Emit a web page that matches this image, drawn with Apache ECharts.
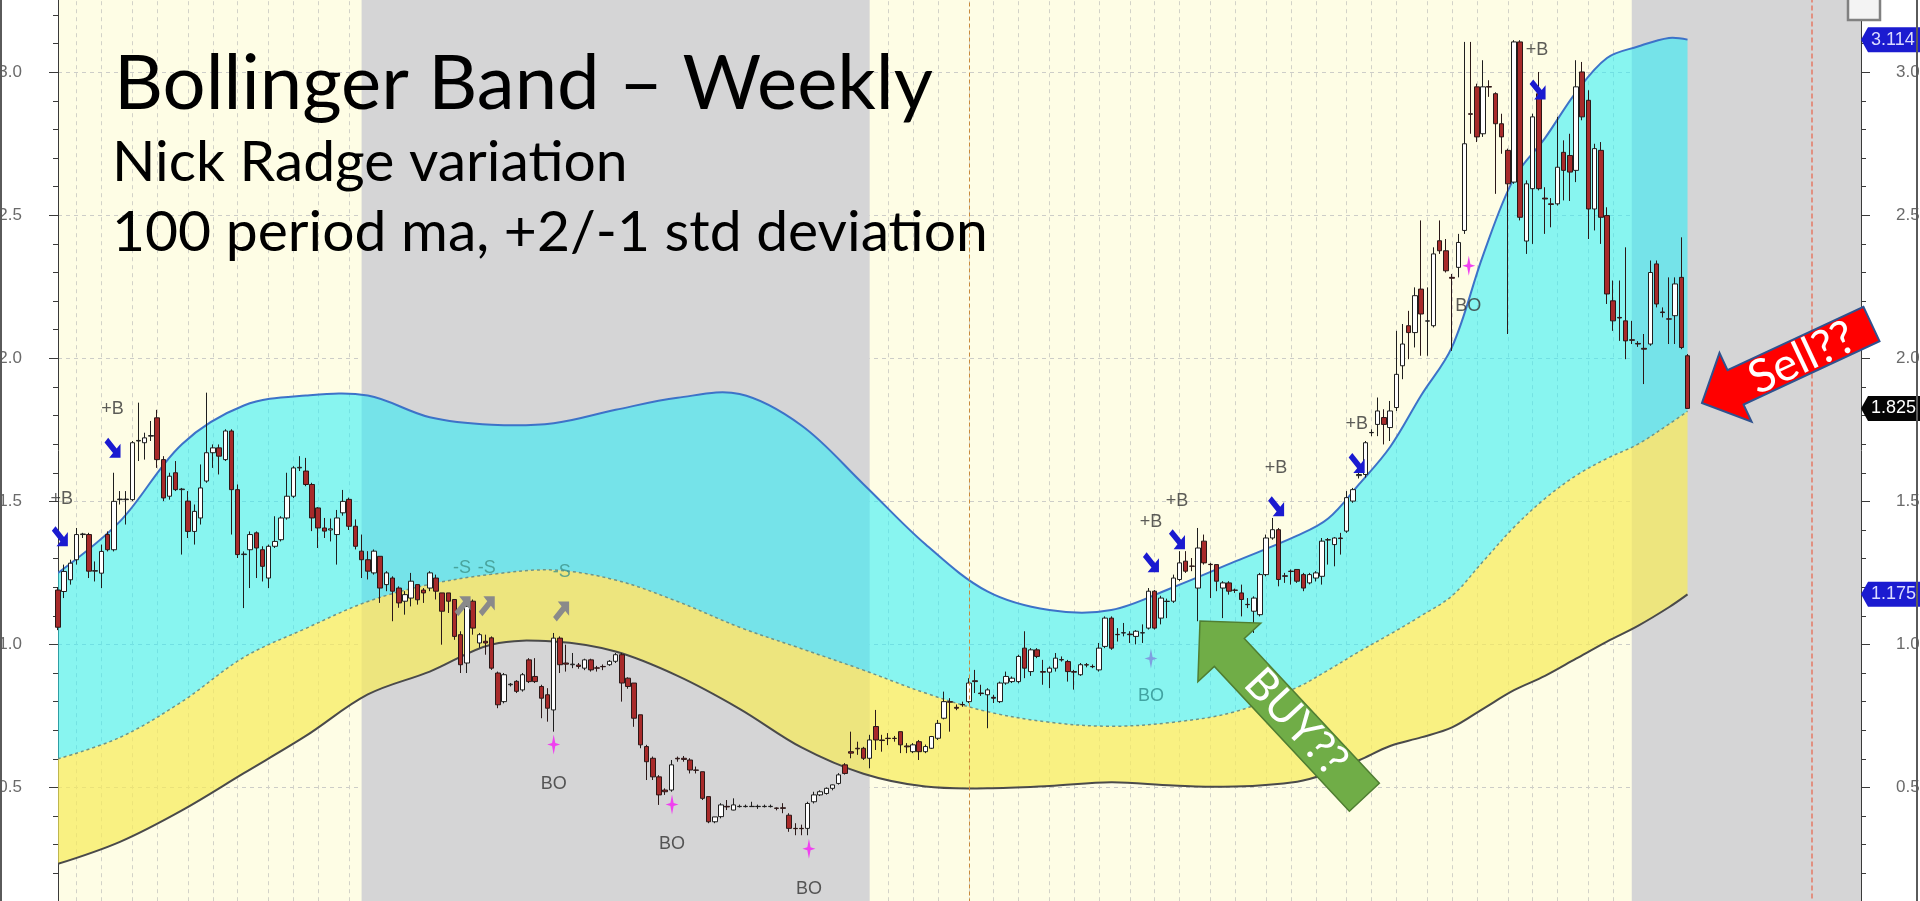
<!DOCTYPE html>
<html>
<head>
<meta charset="utf-8">
<title>Bollinger Band – Weekly</title>
<script src="https://cdn.jsdelivr.net/npm/echarts@6/dist/echarts.min.js"></script>
<style>
  html, body { margin: 0; padding: 0; background: #fff; }
  #chart { width: 1920px; height: 901px; }
</style>
</head>
<body>
<div id="chart"></div>
<script>
// weekly candles [open, close, low, high]
const candlesA = [ // weeks 0-66
  [1.19, 1.06, 1.05, 1.20], [1.185, 1.255, 1.162, 1.279], [1.226, 1.284, 1.209, 1.296], [1.296, 1.384, 1.279, 1.407],
  [1.384, 1.386, 1.372, 1.39], [1.384, 1.256, 1.232, 1.39], [1.256, 1.258, 1.22, 1.29], [1.249, 1.325, 1.197, 1.349],
  [1.384, 1.331, 1.325, 1.395], [1.331, 1.50, 1.325, 1.60], [1.506, 1.508, 1.489, 1.536], [1.506, 1.508, 1.419, 1.536],
  [1.506, 1.705, 1.501, 1.711], [1.711, 1.713, 1.641, 1.845], [1.705, 1.722, 1.646, 1.74], [1.728, 1.73, 1.711, 1.781],
  [1.792, 1.646, 1.617, 1.82], [1.646, 1.512, 1.501, 1.658], [1.518, 1.588, 1.506, 1.60], [1.60, 1.541, 1.536, 1.641],
  [1.541, 1.543, 1.314, 1.547], [1.501, 1.395, 1.372, 1.536], [1.395, 1.465, 1.349, 1.489], [1.442, 1.547, 1.419, 1.629],
  [1.571, 1.67, 1.565, 1.88], [1.67, 1.687, 1.617, 1.699], [1.687, 1.658, 1.594, 1.699], [1.646, 1.746, 1.641, 1.752],
  [1.746, 1.541, 1.384, 1.752], [1.541, 1.314, 1.302, 1.559], [1.314, 1.316, 1.127, 1.325], [1.331, 1.384, 1.197, 1.395],
  [1.39, 1.337, 1.232, 1.395], [1.331, 1.273, 1.22, 1.343], [1.232, 1.343, 1.197, 1.349], [1.343, 1.36, 1.337, 1.448],
  [1.366, 1.442, 1.36, 1.448], [1.442, 1.518, 1.436, 1.60], [1.518, 1.617, 1.512, 1.623], [1.617, 1.619, 1.606, 1.658],
  [1.606, 1.559, 1.553, 1.652], [1.559, 1.442, 1.396, 1.565], [1.477, 1.407, 1.337, 1.48], [1.407, 1.396, 1.372, 1.442],
  [1.40, 1.404, 1.36, 1.44], [1.384, 1.442, 1.279, 1.47], [1.46, 1.50, 1.45, 1.54], [1.507, 1.413, 1.40, 1.513],
  [1.413, 1.343, 1.332, 1.437], [1.326, 1.296, 1.232, 1.384], [1.296, 1.256, 1.227, 1.326], [1.25, 1.326, 1.244, 1.332],
  [1.308, 1.197, 1.145, 1.308], [1.209, 1.25, 1.186, 1.256], [1.232, 1.186, 1.081, 1.238], [1.197, 1.145, 1.128, 1.203],
  [1.151, 1.174, 1.104, 1.186], [1.162, 1.221, 1.133, 1.25], [1.209, 1.156, 1.139, 1.209], [1.19, 1.18, 1.145, 1.197],
  [1.197, 1.25, 1.186, 1.256], [1.232, 1.186, 1.157, 1.244], [1.18, 1.116, 0.999, 1.18], [1.18, 1.151, 1.11, 1.18],
  [1.157, 1.028, 1.016, 1.157], [1.034, 0.929, 0.90, 1.046], [0.935, 1.133, 0.90, 1.151]
];
const candlesB = [ // weeks 67-135
  [1.151, 1.057, 1.034, 1.157], [1.005, 1.034, 0.988, 1.04], [1.011, 1.005, 0.964, 1.034], [1.023, 0.917, 0.911, 1.028],
  [0.90, 0.789, 0.777, 0.905], [0.80, 0.894, 0.794, 0.90], [0.859, 0.861, 0.853, 0.865], [0.871, 0.836, 0.83, 0.875],
  [0.841, 0.894, 0.835, 0.90], [0.946, 0.87, 0.865, 0.952], [0.888, 0.87, 0.865, 0.952], [0.853, 0.812, 0.742, 0.859],
  [0.824, 0.777, 0.73, 0.847], [0.771, 1.022, 0.695, 1.04], [1.022, 0.929, 0.90, 1.028], [0.935, 0.931, 0.905, 0.999],
  [0.929, 0.931, 0.917, 0.97], [0.928, 0.923, 0.915, 0.935], [0.917, 0.946, 0.91, 0.95], [0.946, 0.911, 0.905, 0.95],
  [0.918, 0.917, 0.905, 0.925], [0.923, 0.922, 0.91, 0.93], [0.929, 0.941, 0.925, 0.945], [0.941, 0.964, 0.935, 0.97],
  [0.964, 0.865, 0.80, 0.97], [0.882, 0.853, 0.845, 0.885], [0.865, 0.742, 0.712, 0.865], [0.754, 0.649, 0.637, 0.754],
  [0.643, 0.59, 0.526, 0.649], [0.602, 0.537, 0.526, 0.608], [0.537, 0.474, 0.439, 0.543], [0.491, 0.485, 0.474, 0.497],
  [0.491, 0.579, 0.485, 0.596], [0.602, 0.60, 0.59, 0.608], [0.602, 0.598, 0.59, 0.61], [0.596, 0.561, 0.549, 0.602],
  [0.561, 0.56, 0.549, 0.573], [0.555, 0.462, 0.456, 0.555], [0.468, 0.38, 0.375, 0.468], [0.38, 0.397, 0.375, 0.397],
  [0.398, 0.439, 0.392, 0.445], [0.434, 0.432, 0.421, 0.456], [0.421, 0.439, 0.42, 0.462], [0.433, 0.434, 0.43, 0.44],
  [0.433, 0.434, 0.43, 0.44], [0.433, 0.434, 0.433, 0.45], [0.433, 0.434, 0.425, 0.44], [0.433, 0.434, 0.43, 0.44],
  [0.433, 0.434, 0.43, 0.44], [0.428, 0.427, 0.42, 0.43], [0.429, 0.427, 0.41, 0.445], [0.403, 0.357, 0.345, 0.41],
  [0.357, 0.356, 0.333, 0.375], [0.357, 0.356, 0.333, 0.37], [0.357, 0.444, 0.333, 0.45], [0.45, 0.474, 0.444, 0.485],
  [0.474, 0.485, 0.47, 0.49], [0.479, 0.497, 0.475, 0.50], [0.497, 0.509, 0.49, 0.51], [0.514, 0.544, 0.51, 0.55],
  [0.579, 0.549, 0.545, 0.585], [0.625, 0.62, 0.602, 0.695], [0.637, 0.635, 0.614, 0.66], [0.637, 0.602, 0.596, 0.642],
  [0.602, 0.666, 0.567, 0.684], [0.713, 0.666, 0.631, 0.771], [0.666, 0.664, 0.625, 0.684], [0.672, 0.671, 0.648, 0.69],
  [0.672, 0.671, 0.66, 0.68]
];
const candlesC = [ // weeks 136-209
  [0.695, 0.649, 0.62, 0.695], [0.645, 0.642, 0.62, 0.655], [0.625, 0.649, 0.62, 0.655], [0.66, 0.625, 0.596, 0.666],
  [0.625, 0.643, 0.62, 0.65], [0.637, 0.678, 0.635, 0.68], [0.672, 0.724, 0.666, 0.736], [0.742, 0.80, 0.738, 0.835],
  [0.80, 0.798, 0.695, 0.812], [0.78, 0.777, 0.77, 0.79], [0.79, 0.789, 0.782, 0.80], [0.80, 0.865, 0.795, 0.882],
  [0.873, 0.87, 0.83, 0.911], [0.83, 0.828, 0.82, 0.859], [0.824, 0.841, 0.707, 0.847], [0.815, 0.812, 0.795, 0.824],
  [0.80, 0.865, 0.795, 0.87], [0.865, 0.888, 0.859, 0.905], [0.87, 0.882, 0.865, 0.888], [0.87, 0.958, 0.864, 0.964],
  [0.987, 0.917, 0.882, 1.046], [0.905, 0.981, 0.89, 0.987], [0.981, 0.958, 0.952, 0.987], [0.905, 0.903, 0.859, 0.946],
  [0.903, 0.917, 0.847, 0.923], [0.917, 0.952, 0.905, 0.97], [0.947, 0.946, 0.94, 0.958], [0.94, 0.905, 0.87, 0.946],
  [0.905, 0.903, 0.842, 0.911], [0.894, 0.929, 0.89, 0.935], [0.929, 0.928, 0.92, 0.935], [0.923, 0.922, 0.917, 0.93],
  [0.911, 0.987, 0.905, 1.005], [0.993, 1.092, 0.987, 1.098], [1.092, 0.987, 0.981, 1.098],
  [1.035, 1.034, 1.01, 1.057], [1.04, 1.041, 1.028, 1.075], [1.036, 1.034, 1.005, 1.046], [1.028, 1.046, 1.0, 1.05],
  [1.04, 1.041, 1.005, 1.07], [1.057, 1.186, 1.052, 1.197], [1.186, 1.057, 1.052, 1.19], [1.092, 1.162, 1.07, 1.17],
  [1.15, 1.151, 1.092, 1.16], [1.151, 1.232, 1.145, 1.244], [1.227, 1.285, 1.221, 1.326], [1.291, 1.256, 1.25, 1.326],
  [1.274, 1.273, 1.256, 1.302], [1.197, 1.337, 1.081, 1.407], [1.361, 1.285, 1.279, 1.384], [1.28, 1.279, 1.162, 1.285],
  [1.279, 1.221, 1.186, 1.279], [1.197, 1.215, 1.092, 1.221], [1.215, 1.186, 1.174, 1.221], [1.19, 1.189, 1.18, 1.195],
  [1.18, 1.157, 1.098, 1.209], [1.14, 1.139, 1.127, 1.162], [1.116, 1.162, 1.04, 1.168], [1.104, 1.244, 1.098, 1.25],
  [1.244, 1.372, 1.238, 1.384], [1.372, 1.401, 1.366, 1.442], [1.401, 1.227, 1.203, 1.407], [1.24, 1.238, 1.215, 1.25],
  [1.256, 1.255, 1.209, 1.262], [1.262, 1.221, 1.215, 1.262], [1.244, 1.197, 1.186, 1.25], [1.215, 1.244, 1.21, 1.25],
  [1.232, 1.25, 1.22, 1.256], [1.238, 1.361, 1.209, 1.372], [1.366, 1.365, 1.279, 1.372], [1.349, 1.372, 1.273, 1.375],
  [1.372, 1.37, 1.314, 1.39], [1.396, 1.513, 1.39, 1.536], [1.501, 1.541, 1.495, 1.547]
];
const candlesD = [ // weeks 210-263
  [1.59, 1.594, 1.58, 1.61], [1.594, 1.705, 1.583, 1.711], [1.74, 1.741, 1.728, 1.752], [1.769, 1.816, 1.728, 1.863],
  [1.793, 1.769, 1.699, 1.822], [1.758, 1.816, 1.711, 1.851], [1.828, 1.944, 1.816, 2.096], [1.974, 2.05, 1.927, 2.12],
  [2.114, 2.09, 1.997, 2.166], [2.09, 2.219, 2.038, 2.248], [2.242, 2.155, 2.009, 2.482], [2.13, 2.131, 2.009, 2.248],
  [2.114, 2.365, 2.108, 2.388], [2.411, 2.376, 2.365, 2.482], [2.376, 2.306, 2.30, 2.417], [2.283, 2.28, 2.026, 2.295],
  [2.318, 2.405, 2.283, 2.435],
  [2.447, 2.75, 2.435, 3.106], [2.855, 2.853, 2.785, 3.106], [2.949, 2.774, 2.756, 2.96], [2.785, 2.949, 2.774, 3.042],
  [2.95, 2.948, 2.914, 2.972], [2.925, 2.82, 2.575, 2.93], [2.82, 2.774, 2.715, 2.855], [2.727, 2.61, 2.085, 2.733],
  [2.616, 3.106, 2.61, 3.112], [3.106, 2.493, 2.482, 3.112], [2.41, 2.61, 2.365, 2.622], [2.593, 2.844, 2.40, 2.855],
  [2.925, 2.593, 2.587, 3.001], [2.56, 2.557, 2.435, 2.598], [2.54, 2.538, 2.458, 2.56], [2.54, 2.668, 2.534, 2.844],
  [2.72, 2.657, 2.552, 2.762], [2.709, 2.651, 2.55, 2.785], [2.657, 2.949, 2.616, 3.042], [3.001, 2.844, 2.832, 3.036],
  [2.902, 2.522, 2.417, 2.937], [2.522, 2.733, 2.447, 2.75], [2.727, 2.493, 2.40, 2.756], [2.499, 2.225, 2.19, 2.528],
  [2.201, 2.131, 2.096, 2.272], [2.143, 2.141, 2.061, 2.272], [2.131, 2.061, 1.997, 2.388], [2.065, 2.063, 2.05, 2.131],
  [2.052, 2.05, 2.04, 2.06], [2.035, 2.032, 1.91, 2.085], [2.05, 2.30, 2.044, 2.342], [2.33, 2.19, 2.178, 2.342],
  [2.162, 2.16, 2.143, 2.178], [2.138, 2.137, 2.05, 2.283], [2.149, 2.26, 2.05, 2.283], [2.283, 2.038, 2.032, 2.423],
  [2.009, 1.825, 1.825, 2.015]
];
const candles = candlesA.concat(candlesB, candlesC, candlesD);

// bollinger band, sampled at these week indices
const bandIdx = [0, 10, 20, 30, 40, 50, 60, 70, 80, 90, 100, 110, 120, 130, 140, 150, 160, 170, 180, 190,
  200, 205, 210, 215, 220, 225, 230, 235, 240, 245, 250, 255, 260, 263];
const upperBand = [1.25, 1.43, 1.70, 1.835, 1.87, 1.87, 1.794, 1.768, 1.773, 1.82, 1.862, 1.875, 1.765, 1.56, 1.35,
  1.185, 1.12, 1.12, 1.20, 1.29, 1.38, 1.44, 1.56, 1.69, 1.87, 2.04, 2.36, 2.63, 2.77, 2.93, 3.05, 3.09, 3.12, 3.114];
const middleBand = [0.60, 0.675, 0.80, 0.955, 1.056, 1.15, 1.21, 1.245, 1.26, 1.225, 1.15, 1.06, 0.985, 0.91, 0.83,
  0.765, 0.728, 0.714, 0.728, 0.765, 0.85, 0.91, 0.975, 1.036, 1.10, 1.17, 1.29, 1.41, 1.51, 1.59, 1.65, 1.70, 1.77, 1.815];
const lowerBand = [0.233, 0.31, 0.42, 0.55, 0.68, 0.825, 0.905, 1.00, 1.01, 0.975, 0.89, 0.775, 0.64, 0.548, 0.503,
  0.497, 0.505, 0.518, 0.507, 0.503, 0.52, 0.55, 0.595, 0.645, 0.675, 0.71, 0.775, 0.84, 0.89, 0.95, 1.01, 1.065, 1.13, 1.175];

// signal markers [week, price]
const buyLabels = [[0.6, 1.508], [8.8, 1.823], [176.4, 1.427], [180.6, 1.50], [196.6, 1.617], [209.6, 1.771], [238.7, 3.077]];
const buyArrows = [[0.3, 1.378], [8.8, 1.687], [176.4, 1.287], [180.6, 1.368], [196.6, 1.483], [209.6, 1.634], [238.8, 2.94]];
const sellLabels = [[65.2, 1.266], [69.2, 1.266], [81.3, 1.252]];
const sellArrows = [[65.3, 1.133], [69.2, 1.133], [81.2, 1.115]];
const boStars = [[80.0, 0.65], [99.1, 0.44], [121.2, 0.286], [227.7, 2.324]];
const boLabels = [[80.0, 0.513], [99.1, 0.303], [121.2, 0.145], [227.6, 2.184]];
const boStarsBlue = [[176.4, 0.951]];
const boLabelsBlue = [[176.4, 0.818]];

const yTicks = [0.5, 1.0, 1.5, 2.0, 2.5, 3.0];
const TOTAL_WEEKS = 292;
const greyZones = [[49, 131], [254, 291]];

const weeks = [];
const start = Date.UTC(2013, 0, 11);
for (let i = 0; i < TOTAL_WEEKS; i++) {
  weeks.push(new Date(start + i * 7 * 864e5).toISOString().slice(0, 10));
}

const NARROW = '"Liberation Sans Narrow", "Liberation Sans", Arial, sans-serif';
const ARROW_DR = 'path://M4.76,0.24 L15.26,10.74 L20,6 L20,20 L6,20 L10.74,15.26 L0.24,4.76 Z';
const ARROW_UR = 'path://M4.76,19.76 L15.26,9.26 L20,14 L20,0 L6,0 L10.74,4.74 L0.24,15.24 Z';
const STAR = 'path://M6,0 L7.5,8.5 L12,10 L7.5,11.5 L6,20 L4.5,11.5 L0,10 L4.5,8.5 Z';
const SMOOTH = 0.35;

function textMarks(points, text, color) {
  return {
    type: 'scatter', xAxisIndex: 1, yAxisIndex: 0, z: 6, silent: true,
    symbol: 'circle', symbolSize: 1, itemStyle: { color: 'rgba(0,0,0,0)' },
    label: { show: true, position: 'inside', formatter: text, color: color, fontSize: 18, fontFamily: NARROW },
    data: points
  };
}
function symbolMarks(points, path, size, color) {
  return {
    type: 'scatter', xAxisIndex: 1, yAxisIndex: 0, z: 6, silent: true,
    symbol: path, symbolSize: size, itemStyle: { color: color, opacity: 1 }, data: points
  };
}

// band fill + band lines, drawn through the axes of the chart
function renderBands(params, api) {
  const toPts = vals => bandIdx.map((x, i) => api.coord([x, vals[i]]));
  const up = toPts(upperBand), mid = toPts(middleBand), low = toPts(lowerBand);
  const dup = a => [a[0]].concat(a, [a[a.length - 1]]);
  const loop = (top, bottom) => dup(top).concat(dup(bottom.slice().reverse()));
  return {
    type: 'group',
    children: [
      { type: 'polygon', shape: { points: loop(up, mid), smooth: SMOOTH }, style: { fill: 'rgba(38,239,250,0.55)' } },
      { type: 'polygon', shape: { points: loop(mid, low), smooth: SMOOTH }, style: { fill: 'rgba(246,235,88,0.7)' } },
      { type: 'polyline', shape: { points: low, smooth: SMOOTH }, style: { stroke: '#4a4a4a', lineWidth: 2, fill: null } },
      { type: 'polyline', shape: { points: mid, smooth: SMOOTH }, style: { stroke: '#6f9587', lineWidth: 1.5, lineDash: [3, 3], fill: null } },
      { type: 'polyline', shape: { points: up, smooth: SMOOTH }, style: { stroke: '#3d72c8', lineWidth: 2, fill: null } }
    ]
  };
}

const axisLabelStyle = {
  showMinLabel: false, showMaxLabel: false, color: '#6a6a6a', fontSize: 17, fontFamily: NARROW,
  formatter: v => (yTicks.indexOf(v) >= 0 ? v.toFixed(1) : '')
};
const yAxisBase = {
  type: 'value', min: 0, max: 3.5, interval: 0.5,
  axisLine: { show: true, lineStyle: { color: '#3a3a3a', width: 1 } },
  axisTick: { show: true, length: 9, lineStyle: { color: '#3a3a3a' } },
  minorTick: { show: true, splitNumber: 5, length: 5, lineStyle: { color: '#3a3a3a' } }
};

const chart = echarts.init(document.getElementById('chart'));

chart.setOption({
  animation: false,
  backgroundColor: '#ffffff',
  grid: {
    left: 58, right: 59, top: -70.8, bottom: -29.5,
    show: true, backgroundColor: '#fefde5', borderWidth: 0,
    containLabel: false, outerBoundsMode: 'none'
  },
  xAxis: [
    {
      type: 'category', data: weeks, boundaryGap: false,
      axisLine: { show: false }, axisTick: { show: false }, axisLabel: { show: false },
      splitLine: {
        show: true,
        interval: (i) => i > 0 && weeks[i].slice(5, 7) !== weeks[i - 1].slice(5, 7),
        lineStyle: { color: '#d2d2c8', type: [4, 4], width: 1 }
      }
    },
    { type: 'value', min: 0, max: TOTAL_WEEKS - 1, show: false }
  ],
  yAxis: [
    Object.assign({}, yAxisBase, {
      position: 'left',
      axisLabel: Object.assign({}, axisLabelStyle, { margin: 36 }),
      splitLine: { show: true, lineStyle: { color: '#cdcdc8', type: [4, 4] } }
    }),
    Object.assign({}, yAxisBase, {
      position: 'right',
      axisLabel: Object.assign({}, axisLabelStyle, { margin: 35 }),
      splitLine: { show: false }
    })
  ],
  series: [
    {
      type: 'line', xAxisIndex: 0, yAxisIndex: 0, data: [], silent: true,
      markArea: {
        silent: true, z: 1,
        itemStyle: { color: '#d5d5d6' },
        data: greyZones.map(z => [{ xAxis: weeks[z[0]] }, { xAxis: weeks[z[1]] }])
      },
      markLine: {
        silent: true, symbol: 'none', label: { show: false },
        data: [
          { xAxis: weeks[147], lineStyle: { color: '#c98a3c', type: [4, 3], width: 1 } },
          { xAxis: weeks[283], lineStyle: { color: '#e57a66', type: [5, 3], width: 1.5 } }
        ]
      }
    },
    {
      name: 'bands', type: 'custom', xAxisIndex: 1, yAxisIndex: 0, z: 2, silent: true, clip: true,
      renderItem: renderBands,
      data: [[0, 0]]
    },
    {
      name: 'price', type: 'candlestick', xAxisIndex: 0, yAxisIndex: 0, z: 4, silent: true,
      barWidth: 5,
      itemStyle: {
        color: '#ffffff', color0: '#a82a2a',
        borderColor: '#1e1e1e', borderColor0: '#2b1818', borderColorDoji: '#1e1e1e', borderWidth: 1
      },
      data: candles
    },
    symbolMarks(buyArrows, ARROW_DR, [16, 20], '#1a1ad0'),
    textMarks(buyLabels, '+B', '#333333'),
    symbolMarks(sellArrows, ARROW_UR, [16, 20], '#8a8a8a'),
    textMarks(sellLabels, '-S', '#3f938a'),
    symbolMarks(boStars, STAR, [13, 20], '#f040f0'),
    textMarks(boLabels, 'BO', '#333333'),
    symbolMarks(boStarsBlue, STAR, [13, 20], '#7f9fe0'),
    textMarks(boLabelsBlue, 'BO', '#2f8f8f')
  ]
});

// annotation arrows (slide overlay), pixel geometry
function arrowPoints(tx, ty, deg, headLen, headHalf, shaftHalf, shaftLen) {
  const a = deg * Math.PI / 180, dx = Math.cos(a), dy = Math.sin(a), px = -dy, py = dx;
  const bx = tx + dx * headLen, by = ty + dy * headLen;
  const ex = bx + dx * shaftLen, ey = by + dy * shaftLen;
  return [[tx, ty], [bx + px * headHalf, by + py * headHalf], [bx + px * shaftHalf, by + py * shaftHalf],
    [ex + px * shaftHalf, ey + py * shaftHalf], [ex - px * shaftHalf, ey - py * shaftHalf],
    [bx - px * shaftHalf, by - py * shaftHalf], [bx - px * headHalf, by - py * headHalf]];
}

const axisX = chart.convertToPixel({ xAxisIndex: 0 }, weeks[TOTAL_WEEKS - 1]);
const tagValues = [upperBand[upperBand.length - 1], candles[candles.length - 1][1], lowerBand[lowerBand.length - 1]];
const tagColors = ['#1b1bd0', '#050505', '#1b1bd0'];
const tags = [];
tagValues.forEach((v, i) => {
  const y = chart.convertToPixel({ yAxisIndex: 0 }, v);
  tags.push({
    type: 'polygon', z: 20,
    shape: { points: [[axisX, y], [axisX + 7, y - 12.5], [1920, y - 12.5], [1920, y + 12.5], [axisX + 7, y + 12.5]] },
    style: { fill: tagColors[i] }
  });
  tags.push({
    type: 'text', z: 21, x: axisX + 10, y: y,
    style: { text: v.toFixed(3), font: '18px ' + NARROW, fill: i === 1 ? '#ffffff' : '#dcdcff', verticalAlign: 'middle' }
  });
});

chart.setOption({
  graphic: [
    { type: 'text', x: 114, y: 84, z: 30, style: { text: 'Bollinger Band – Weekly', font: '76px Lato', fill: '#000', verticalAlign: 'middle' } },
    { type: 'text', x: 112, y: 163, z: 30, style: { text: 'Nick Radge variation', font: '57px Lato', fill: '#000', verticalAlign: 'middle' } },
    { type: 'text', x: 112, y: 233, z: 30, style: { text: '100 period ma, +2/-1 std deviation', font: '57px Lato', fill: '#000', verticalAlign: 'middle' } },
    {
      type: 'polygon', z: 30,
      shape: { points: arrowPoints(1200, 621, 47, 43, 43, 20.5, 198) },
      style: { fill: '#70ad47', stroke: '#507e32', lineWidth: 1.5 }
    },
    {
      type: 'text', z: 31, x: 1296, y: 722, rotation: -47 * Math.PI / 180,
      style: { text: 'BUY??', font: '44px Lato', fill: '#ffffff', align: 'center', verticalAlign: 'middle' }
    },
    {
      type: 'polygon', z: 30,
      shape: { points: arrowPoints(1702, 403, -25, 37, 38, 19, 150) },
      style: { fill: '#ff0000', stroke: '#2f528f', lineWidth: 2 }
    },
    {
      type: 'text', z: 31, x: 1802, y: 358, rotation: 25 * Math.PI / 180,
      style: { text: 'Sell??', font: '46px Lato', fill: '#ffffff', align: 'center', verticalAlign: 'middle' }
    },
    ...tags,
    { type: 'rect', z: 22, shape: { x: 1848, y: -4, width: 32, height: 24 }, style: { fill: '#f3f3f3', stroke: '#808080', lineWidth: 2.5 } },
    { type: 'line', z: 25, shape: { x1: 1, y1: 0, x2: 1, y2: 901 }, style: { stroke: '#5a5a5a', lineWidth: 2 } },
    { type: 'line', z: 25, shape: { x1: 1917, y1: 0, x2: 1917, y2: 901 }, style: { stroke: '#5a5a5a', lineWidth: 2 } }
  ]
});
</script>
</body>
</html>
